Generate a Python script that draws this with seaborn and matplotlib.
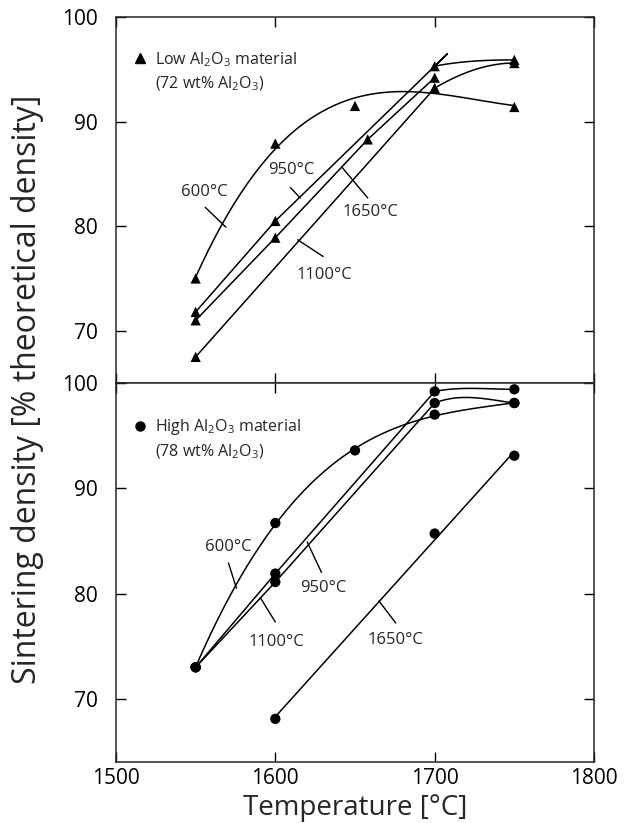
import numpy as np
import pandas as pd
import matplotlib
matplotlib.use("Agg")
import matplotlib.pyplot as plt
import seaborn as sns
from matplotlib.lines import Line2D

# sintering density [% TD] vs sintering temperature
# low Al2O3 material (72 wt% Al2O3), triangles
low_600_T = [1550, 1600, 1650, 1700, 1750]
low_600_D = [75.0, 87.9, 91.5, 93.2, 91.4]
low_950_T = [1550, 1600, 1700, 1750]
low_950_D = [71.8, 80.5, 95.3, 95.9]
low_1100_T = [1550, 1700, 1750]
low_1100_D = [67.5, 93.2, 95.6]
low_1650_T = [1550, 1600, 1658, 1700]
low_1650_D = [71.0, 78.9, 88.3, 94.2]

# high Al2O3 material (78 wt% Al2O3), circles
high_600_T = [1550, 1600, 1650, 1700, 1750]
high_600_D = [73.0, 86.7, 93.6, 97.0, 98.1]
high_950_T = [1550, 1600, 1700, 1750]
high_950_D = [73.0, 81.9, 99.2, 99.4]
high_1100_T = [1550, 1600, 1700, 1750]
high_1100_D = [73.0, 81.1, 98.1, 98.1]
high_1650_T = [1600, 1700, 1750]
high_1650_D = [68.1, 85.7, 93.1]

x_ticks = [1500, 1600, 1700, 1800]
y_ticks = [70, 80, 90, 100]


# --- how each curve is drawn -------------------------------------------------
def hermite(x0, y0, x1, y1, m0, m1, n=40):
    t = np.linspace(0, 1, n)
    h = x1 - x0
    y = ((2*t**3 - 3*t**2 + 1) * y0 + (t**3 - 2*t**2 + t) * h * m0
         + (-2*t**3 + 3*t**2) * y1 + (t**3 - t**2) * h * m1)
    return x0 + t * h, y


def trend(x, y):
    # smooth hand-drawn trend: cubic least squares through the points
    c = np.polyfit(x, y, 3)
    xs = np.linspace(x[0], x[-1], 150)
    return xs, np.polyval(c, xs)


def bend(x, y, slopes, over=0):
    # straight rise up to 1700, then a short rounded tail
    x = np.asarray(x, float)
    y = np.asarray(y, float)
    if x[-1] <= 1700:
        return x, y
    xs = list(x[:-1])
    ys = list(y[:-1])
    if over:
        # the ruled line runs a little past the 1700 point
        k = (y[-2] - y[-3]) / (x[-2] - x[-3])
        xs += [x[-2] + over, x[-2]]
        ys += [y[-2] + k * over, y[-2]]
    tx, ty = hermite(x[-2], y[-2], x[-1], y[-1], slopes[0], slopes[1])
    return np.concatenate([xs, tx]), np.concatenate([ys, ty])


def fit(x, y):
    k, c = np.polyfit(x, y, 1)
    xs = np.array([x[0], x[-1]], float)
    return xs, k * xs + c


def frame(series):
    rows = []
    for name, (xs, ys) in series.items():
        rows.append(pd.DataFrame({"series": name, "T": xs, "D": ys}))
    return pd.concat(rows, ignore_index=True)


low_pts = frame({
    "600": (low_600_T, low_600_D), "950": (low_950_T, low_950_D),
    "1100": (low_1100_T, low_1100_D), "1650": (low_1650_T, low_1650_D)})
high_pts = frame({
    "600": (high_600_T, high_600_D), "950": (high_950_T, high_950_D),
    "1100": (high_1100_T, high_1100_D), "1650": (high_1650_T, high_1650_D)})

low_lines = frame({
    "600": trend(low_600_T, low_600_D),
    "950": bend(low_950_T, low_950_D, (0.03, 0.0), over=8),
    "1100": bend(low_1100_T, low_1100_D, (0.09, 0.0)),
    "1650": bend(low_1650_T, low_1650_D, (0.0, 0.0))})
high_lines = frame({
    "600": trend(high_600_T, high_600_D),
    "950": bend(high_950_T, high_950_D, (0.03, 0.0)),
    "1100": bend(high_1100_T, high_1100_D, (0.06, -0.02)),
    "1650": fit(high_1650_T, high_1650_D)})

# --- style --------------------------------------------------------------------
sns.set_style("ticks")
plt.rcParams["font.family"] = ["Open Sans", "DejaVu Sans"]
plt.rcParams["mathtext.default"] = "regular"
plt.rcParams["axes.linewidth"] = 1.1

fig = plt.figure(figsize=(6.26, 8.23), dpi=100)
ax_top = fig.add_axes([0.1853, 0.5346, 0.7636, 0.4447])
ax_bot = fig.add_axes([0.1853, 0.0741, 0.7636, 0.4605])

panels = [
    (ax_top, low_pts, low_lines, "^", (65.0, 100),
     "Low Al$_2$O$_3$ material", "(72 wt% Al$_2$O$_3$)"),
    (ax_bot, high_pts, high_lines, "o", (64.0, 100),
     "High Al$_2$O$_3$ material", "(78 wt% Al$_2$O$_3$)"),
]

for ax, pts, lines, mk, ylim, lab1, lab2 in panels:
    sns.lineplot(data=lines, x="T", y="D", units="series", estimator=None,
                 sort=False, color="black", lw=1.1, ax=ax, legend=False)
    sns.scatterplot(data=pts, x="T", y="D", marker=mk, color="black",
                    s=55, edgecolor="none", ax=ax, legend=False, zorder=3)
    ax.set_xlim(1500, 1800)
    ax.set_ylim(*ylim)
    ax.set_yticks(y_ticks)
    ax.set_xticks(x_ticks)
    ax.set_xlabel("")
    ax.set_ylabel("")
    ax.tick_params(direction="in", length=7, width=1, top=True, right=True,
                   labelsize=15, colors="black")
    ax.tick_params(axis="y", pad=13)
    ax.tick_params(axis="x", pad=4)
    h1 = Line2D([], [], ls="none", marker=mk, color="black", markersize=6.5)
    h2 = Line2D([], [], ls="none")
    ax.legend([h1, h2], [lab1, lab2], loc="upper left",
              bbox_to_anchor=(0.033, 0.91), frameon=False, fontsize=11.5,
              handlelength=1.0, handletextpad=0.45, borderpad=0,
              labelspacing=0.35, borderaxespad=0)

ax_top.tick_params(labelbottom=False)

# curve labels with leader lines
label_kw = dict(fontsize=12, ha="center", va="center")
leader_kw = dict(arrowprops=dict(arrowstyle="-", lw=1, color="black",
                                 shrinkA=0, shrinkB=0))

top_labels = [
    ("600°C", (1555.6, 83.3), (1556, 81.8), (1569, 79.9)),
    ("950°C", (1610, 85.4), (1609.4, 83.7), (1615.6, 82.7)),
    ("1650°C", (1660, 81.4), (1658, 82.7), (1642, 85.6)),
    ("1100°C", (1630.6, 75.3), (1630, 77.1), (1614, 78.7)),
]
bot_labels = [
    ("600°C", (1570.6, 84.4), (1570.6, 82.9), (1575.6, 80.5)),
    ("950°C", (1630, 80.5), (1629, 82.0), (1620, 84.9)),
    ("1100°C", (1600.6, 75.4), (1600, 77.3), (1590.6, 79.6)),
    ("1650°C", (1675.6, 75.6), (1675.6, 77.2), (1665, 79.3)),
]
for ax, labs in [(ax_top, top_labels), (ax_bot, bot_labels)]:
    for txt, pos, a, b in labs:
        ax.text(*pos, txt, **label_kw)
        ax.annotate("", xy=b, xytext=a, **leader_kw)

ax_bot.set_xlabel("Temperature [°C]", fontsize=20, labelpad=4)
fig.text(0.044, 0.527, "Sintering density [% theoretical density]",
         rotation=90, ha="center", va="center", fontsize=23)

fig.savefig("out.png", dpi=100)
